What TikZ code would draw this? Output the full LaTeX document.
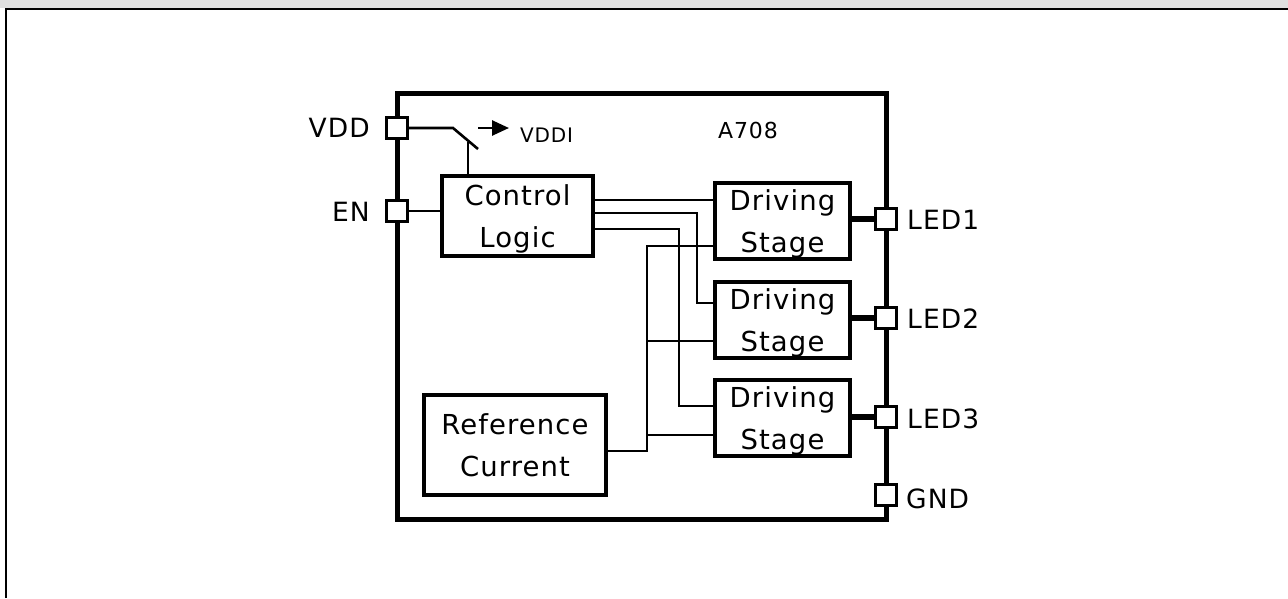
\documentclass[tikz,border=0pt]{standalone}
\usepackage{fontspec}
\setmainfont{DejaVu Sans}[LetterSpace=4.0]
\usetikzlibrary{arrows.meta}
\definecolor{band}{HTML}{E0E0E0}

\begin{document}
\begin{tikzpicture}[x=1pt, y=-1pt,
  pad/.style={draw, fill=white, line width=2.3pt, minimum size=21pt, inner sep=0pt},
  blk/.style={draw, line width=4.6pt, align=center, inner sep=0pt,
    font=\fontsize{27.5}{42}\selectfont, text height=62pt, text depth=0pt},
  pin/.style={font=\fontsize{26.5}{30}\selectfont, inner sep=0pt},
  small/.style={font=\fontsize{20}{24}\selectfont, inner sep=0pt},
  wire/.style={line width=2.6pt},
  bus/.style={line width=5.5pt}
]
  \useasboundingbox (0,0) rectangle (1288,598);

  % --- frame ---
  \fill[band] (0,0) rectangle (1288,8.3);
  \draw[line width=2.3pt] (6,598) -- (6,9.2) -- (1288,9.2);

  % --- chip outline ---
  \draw[line width=5pt] (397,93.5) rectangle (886,519.5);
  \node[font=\fontsize{22}{26}\selectfont, inner sep=0pt, anchor=base west] (chip) at (718,138) {A708};

  % --- blocks ---
  \node[blk, minimum width=151pt, minimum height=80pt] (ctrl) at (517.5,216) {Control\\Logic};
  \node[blk, minimum width=182pt, minimum height=100pt] (ref) at (515,445) {Reference\\Current};
  \node[blk, minimum width=135pt, minimum height=76pt] (ds1) at (782.5,221) {Driving\\Stage};
  \node[blk, minimum width=135pt, minimum height=76pt] (ds2) at (782.5,320) {Driving\\Stage};
  \node[blk, minimum width=135pt, minimum height=76pt] (ds3) at (782.5,418) {Driving\\Stage};

  % --- pads ---
  \node[pad] (vdd) at (397,128) {};
  \node[pad] (en) at (397,211) {};
  \node[pad] (led1) at (886,219) {};
  \node[pad] (led2) at (886,318) {};
  \node[pad] (led3) at (886,417) {};
  \node[pad] (gnd) at (886,495) {};

  \node[pin, anchor=base east] (vddl) at (370,137) {VDD};
  \node[pin, anchor=base east] (enl) at (370,221) {EN};
  \node[pin, anchor=base west] (led1l) at (907,229) {LED1};
  \node[pin, anchor=base west] (led2l) at (907,328) {LED2};
  \node[pin, anchor=base west] (led3l) at (907,428) {LED3};
  \node[pin, anchor=base west] (gndl) at (906,508) {GND};

  % --- supply switch ---
  \coordinate (swa) at (453,128);
  \coordinate (swb) at (478,149);
  \coordinate (swc) at (468,142);
  \coordinate (ara) at (478,128);
  \coordinate (arb) at (509,128);
  \draw[wire] (vdd.east) -- (swa) -- (swb);
  \draw[wire] (ctrl.north -| swc) -- (swc);
  \draw[wire, -{Triangle[length=17pt,width=15pt]}] (ara) -- (arb);
  \node[small, anchor=base west] (vddi) at (520,142) {VDDI};

  % --- signal wires ---
  \draw[wire] (en.east) -- (en.east -| ctrl.west);
  \draw[wire] (ctrl.east |- 0,200) -- (ds1.west |- 0,200);
  \draw[wire] (ctrl.east |- 0,213) -- (697,213) |- (ds2.west |- 0,303);
  \draw[wire] (ctrl.east |- 0,229) -- (679,229) |- (ds3.west |- 0,406);

  % --- reference current ---
  \draw[wire] (ref.east |- 0,451) -- (647,451) |- (ds1.west |- 0,246);
  \draw[wire] (647,341) -- (ds2.west |- 0,341);
  \draw[wire] (647,435) -- (ds3.west |- 0,435);

  % --- outputs ---
  \draw[bus] (ds1.east |- led1) -- (led1.west);
  \draw[bus] (ds2.east |- led2) -- (led2.west);
  \draw[bus] (ds3.east |- led3) -- (led3.west);
\end{tikzpicture}
\end{document}
